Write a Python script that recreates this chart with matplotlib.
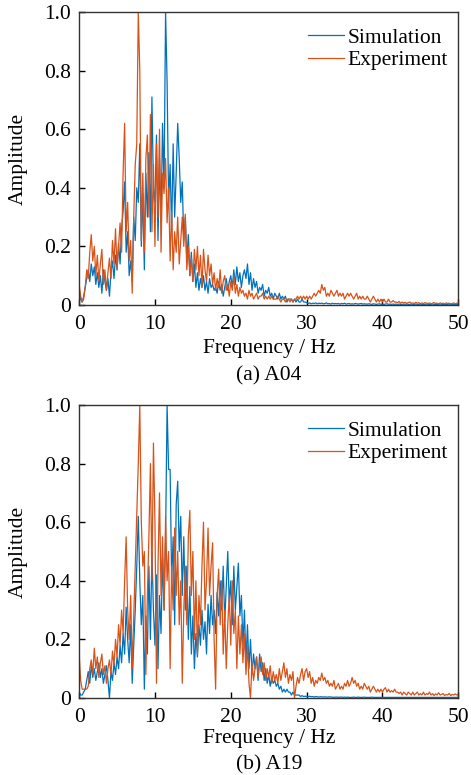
import numpy as np
import matplotlib
matplotlib.use("Agg")
import matplotlib.pyplot as plt

plt.rcParams["font.family"] = ["Liberation Serif", "DejaVu Serif"]
plt.rcParams["mathtext.fontset"] = "stix"

# amplitude spectra, 0.2 Hz step from 0 to 50 Hz
sim_a04 = [
    0.05, 0.02, 0.01, 0.03, 0.06, 0.09, 0.12, 0.08, 0.14, 0.10,
    0.13, 0.07, 0.11, 0.06, 0.10, 0.04, 0.12, 0.08, 0.05, 0.09,
    0.03, 0.11, 0.15, 0.09, 0.17, 0.12, 0.21, 0.14, 0.26, 0.32,
    0.42, 0.18, 0.25, 0.10, 0.15, 0.08, 0.30, 0.22, 0.40, 0.35,
    0.55, 0.20, 0.38, 0.12, 0.45, 0.30, 0.52, 0.25, 0.71, 0.40,
    0.35, 0.58, 0.22, 0.50, 0.28, 0.62, 0.40, 1.00, 0.76, 0.35,
    0.48, 0.25, 0.55, 0.30, 0.45, 0.62, 0.50, 0.35, 0.42, 0.22,
    0.30, 0.15, 0.24, 0.10, 0.18, 0.08, 0.14, 0.06, 0.11, 0.05,
    0.09, 0.06, 0.10, 0.05, 0.08, 0.04, 0.09, 0.06, 0.07, 0.05,
    0.06, 0.04, 0.08, 0.05, 0.07, 0.03, 0.06, 0.09, 0.05, 0.08,
    0.10, 0.06, 0.12, 0.07, 0.13, 0.08, 0.11, 0.06, 0.10, 0.12,
    0.09, 0.14, 0.07, 0.11, 0.05, 0.09, 0.06, 0.08, 0.04, 0.06,
    0.05, 0.07, 0.03, 0.05, 0.04, 0.06, 0.03, 0.04, 0.02, 0.04,
    0.03, 0.02, 0.04, 0.02, 0.03, 0.02, 0.03, 0.01, 0.02, 0.02,
    0.02, 0.01, 0.02, 0.01, 0.02, 0.01, 0.01, 0.02, 0.01, 0.01,
    0.008, 0.005, 0.007, 0.004, 0.006, 0.005, 0.007, 0.004, 0.006, 0.005,
    0.006, 0.004, 0.005, 0.007, 0.004, 0.005, 0.003, 0.006, 0.004, 0.005,
    0.004, 0.005, 0.003, 0.005, 0.004, 0.006, 0.003, 0.004, 0.005, 0.003,
    0.004, 0.003, 0.005, 0.004, 0.003, 0.004, 0.005, 0.003, 0.004, 0.003,
    0.003, 0.004, 0.003, 0.002, 0.004, 0.003, 0.002, 0.003, 0.004, 0.002,
    0.003, 0.002, 0.003, 0.004, 0.002, 0.003, 0.002, 0.003, 0.002, 0.003,
    0.002, 0.003, 0.002, 0.002, 0.003, 0.002, 0.003, 0.002, 0.002, 0.003,
    0.002, 0.002, 0.003, 0.002, 0.002, 0.003, 0.002, 0.002, 0.002, 0.003,
    0.002, 0.002, 0.002, 0.003, 0.002, 0.002, 0.002, 0.002, 0.003, 0.002,
    0.002, 0.002, 0.002, 0.002, 0.003, 0.002, 0.002, 0.002, 0.002, 0.002,
    0.002,
]
exp_a04 = [
    0.07, 0.03, 0.01, 0.02, 0.06, 0.12, 0.09, 0.18, 0.24, 0.15,
    0.20, 0.10, 0.17, 0.08, 0.14, 0.19, 0.07, 0.12, 0.05, 0.11,
    0.16, 0.09, 0.22, 0.14, 0.26, 0.12, 0.20, 0.28, 0.18, 0.45,
    0.62, 0.25, 0.35, 0.15, 0.22, 0.04, 0.30, 0.48, 0.55, 1.00,
    0.80, 0.22, 0.45, 0.18, 0.50, 0.58, 0.30, 0.65, 0.25, 0.48,
    0.20, 0.55, 0.30, 0.60, 0.18, 0.45, 0.38, 0.50, 0.28, 0.40,
    0.15, 0.32, 0.12, 0.25, 0.18, 0.30, 0.14, 0.22, 0.30, 0.20,
    0.31, 0.12, 0.20, 0.10, 0.16, 0.08, 0.19, 0.12, 0.20, 0.10,
    0.17, 0.06, 0.19, 0.12, 0.08, 0.17, 0.10, 0.14, 0.07, 0.11,
    0.05, 0.09, 0.06, 0.12, 0.04, 0.08, 0.10, 0.05, 0.07, 0.03,
    0.08, 0.05, 0.10, 0.04, 0.07, 0.03, 0.06, 0.04, 0.05, 0.03,
    0.04, 0.02, 0.05, 0.03, 0.04, 0.02, 0.03, 0.04, 0.02, 0.03,
    0.03, 0.04, 0.02, 0.03, 0.02, 0.03, 0.02, 0.03, 0.02, 0.02,
    0.02, 0.03, 0.02, 0.01, 0.02, 0.02, 0.01, 0.02, 0.02, 0.01,
    0.02, 0.01, 0.02, 0.02, 0.03, 0.02, 0.03, 0.02, 0.03, 0.02,
    0.03, 0.02, 0.03, 0.02, 0.03, 0.04, 0.03, 0.04, 0.05, 0.04,
    0.07, 0.05, 0.06, 0.03, 0.04, 0.03, 0.05, 0.04, 0.03, 0.04,
    0.05, 0.03, 0.04, 0.03, 0.04, 0.02, 0.03, 0.04, 0.03, 0.04,
    0.03, 0.02, 0.03, 0.04, 0.02, 0.03, 0.02, 0.03, 0.02, 0.02,
    0.03, 0.02, 0.01, 0.02, 0.03, 0.02, 0.01, 0.02, 0.01, 0.02,
    0.01, 0.02, 0.01, 0.01, 0.02, 0.01, 0.01, 0.015, 0.01, 0.01,
    0.008, 0.012, 0.006, 0.01, 0.007, 0.009, 0.005, 0.008, 0.01, 0.006,
    0.007, 0.005, 0.009, 0.006, 0.008, 0.004, 0.007, 0.005, 0.008, 0.006,
    0.005, 0.007, 0.004, 0.006, 0.008, 0.005, 0.006, 0.004, 0.007, 0.005,
    0.006, 0.004, 0.007, 0.005, 0.006, 0.004, 0.005, 0.007, 0.004, 0.006,
    0.005,
]
sim_a19 = [
    0.02, 0.01, 0.01, 0.02, 0.03, 0.06, 0.09, 0.05, 0.11, 0.07,
    0.10, 0.06, 0.09, 0.12, 0.07, 0.10, 0.05, 0.08, 0.11, 0.06,
    0.00, 0.09, 0.06, 0.12, 0.08, 0.14, 0.10, 0.18, 0.12, 0.22,
    0.15, 0.31, 0.20, 0.12, 0.25, 0.05, 0.18, 0.30, 0.45, 0.62,
    0.40, 0.25, 0.35, 0.03, 0.28, 0.15, 0.45, 0.20, 0.50, 0.30,
    0.18, 0.42, 0.10, 0.35, 0.22, 0.48, 0.30, 0.55, 1.00, 0.78,
    0.78, 0.40, 0.55, 0.25, 0.66, 0.74, 0.50, 0.62, 0.35, 0.55,
    0.30, 0.45, 0.20, 0.38, 0.15, 0.28, 0.10, 0.22, 0.14, 0.25,
    0.18, 0.30, 0.20, 0.26, 0.15, 0.32, 0.22, 0.35, 0.25, 0.30,
    0.22, 0.36, 0.28, 0.40, 0.30, 0.45, 0.26, 0.38, 0.50, 0.32,
    0.40, 0.25, 0.45, 0.30, 0.38, 0.46, 0.28, 0.35, 0.18, 0.30,
    0.12, 0.25, 0.10, 0.20, 0.08, 0.15, 0.10, 0.14, 0.06, 0.15,
    0.09, 0.12, 0.06, 0.10, 0.05, 0.08, 0.04, 0.07, 0.05, 0.06,
    0.04, 0.05, 0.03, 0.04, 0.02, 0.03, 0.02, 0.03, 0.02, 0.02,
    0.01, 0.02, 0.01, 0.01, 0.01, 0.01, 0.005, 0.008, 0.005, 0.006,
    0.005, 0.004, 0.006, 0.004, 0.005, 0.003, 0.005, 0.004, 0.003, 0.004,
    0.004, 0.003, 0.004, 0.003, 0.003, 0.004, 0.003, 0.003, 0.002, 0.003,
    0.003, 0.002, 0.003, 0.003, 0.002, 0.003, 0.002, 0.003, 0.002, 0.002,
    0.002, 0.003, 0.002, 0.002, 0.003, 0.002, 0.002, 0.002, 0.003, 0.002,
    0.002, 0.002, 0.002, 0.003, 0.002, 0.002, 0.002, 0.002, 0.002, 0.002,
    0.002, 0.002, 0.002, 0.002, 0.002, 0.002, 0.002, 0.002, 0.002, 0.002,
    0.002, 0.002, 0.002, 0.002, 0.002, 0.002, 0.002, 0.002, 0.002, 0.002,
    0.002, 0.002, 0.002, 0.002, 0.002, 0.002, 0.002, 0.002, 0.002, 0.002,
    0.002, 0.002, 0.002, 0.002, 0.002, 0.002, 0.002, 0.002, 0.002, 0.002,
    0.002, 0.002, 0.002, 0.002, 0.002, 0.002, 0.002, 0.002, 0.002, 0.002,
    0.002,
]
exp_a19 = [
    0.15, 0.06, 0.03, 0.03, 0.03, 0.03, 0.04, 0.10, 0.13, 0.08,
    0.17, 0.10, 0.14, 0.07, 0.12, 0.15, 0.08, 0.11, 0.05, 0.10,
    0.13, 0.08, 0.16, 0.11, 0.20, 0.14, 0.25, 0.18, 0.30, 0.22,
    0.40, 0.55, 0.30, 0.20, 0.35, 0.10, 0.28, 0.45, 0.62, 0.80,
    1.00, 0.60, 0.45, 0.50, 0.08, 0.35, 0.55, 0.80, 0.40, 0.87,
    0.60, 0.05, 0.45, 0.70, 0.35, 0.55, 0.30, 0.62, 0.40, 0.50,
    0.10, 0.45, 0.30, 0.58, 0.35, 0.50, 0.25, 0.40, 0.05, 0.30,
    0.45, 0.25, 0.55, 0.64, 0.35, 0.50, 0.20, 0.40, 0.15, 0.35,
    0.25, 0.45, 0.60, 0.30, 0.40, 0.58, 0.35, 0.45, 0.53, 0.20,
    0.03, 0.35, 0.44, 0.25, 0.40, 0.15, 0.30, 0.10, 0.25, 0.35,
    0.18, 0.40, 0.22, 0.30, 0.10, 0.28, 0.15, 0.25, 0.12, 0.22,
    0.08, 0.18, 0.05, 0.00, 0.12, 0.06, 0.10, 0.14, 0.07, 0.12,
    0.14, 0.08, 0.12, 0.06, 0.10, 0.07, 0.11, 0.05, 0.09, 0.06,
    0.08, 0.05, 0.10, 0.06, 0.09, 0.12, 0.07, 0.10, 0.05, 0.08,
    0.06, 0.09, 0.00, 0.04, 0.07, 0.05, 0.08, 0.10, 0.06, 0.09,
    0.10, 0.07, 0.09, 0.05, 0.07, 0.04, 0.06, 0.05, 0.07, 0.06,
    0.085, 0.06, 0.07, 0.05, 0.06, 0.04, 0.05, 0.04, 0.06, 0.03,
    0.04, 0.05, 0.03, 0.04, 0.03, 0.05, 0.04, 0.06, 0.04, 0.05,
    0.07, 0.05, 0.06, 0.04, 0.05, 0.03, 0.04, 0.03, 0.05, 0.04,
    0.03, 0.04, 0.02, 0.03, 0.04, 0.03, 0.02, 0.03, 0.02, 0.03,
    0.02, 0.03, 0.035, 0.02, 0.03, 0.02, 0.025, 0.02, 0.03, 0.02,
    0.02, 0.015, 0.02, 0.01, 0.02, 0.015, 0.01, 0.02, 0.015, 0.01,
    0.02, 0.01, 0.015, 0.02, 0.01, 0.015, 0.01, 0.02, 0.01, 0.015,
    0.012, 0.02, 0.01, 0.015, 0.008, 0.014, 0.01, 0.018, 0.01, 0.012,
    0.015, 0.008, 0.012, 0.01, 0.016, 0.008, 0.012, 0.01, 0.014, 0.01,
    0.012,
]
yticks = [0, 0.2, 0.4, 0.6, 0.8, 1.0]
ytick_labels = ["0", "0.2", "0.4", "0.6", "0.8", "1.0"]
xticks = [0, 10, 20, 30, 40, 50]

blue = "#0072BD"
orange = "#D95319"
fs = 15.5

fig = plt.figure(figsize=(4.71, 7.75), dpi=100)

# (sim, exp, caption, axes rect, xlabel y, caption y) - y in axes coords
panels = [
    (sim_a04, exp_a04, "(a) A04", [0.168, 0.6065, 0.805, 0.378], -0.147, -0.242),
    (sim_a19, exp_a19, "(b) A19", [0.168, 0.0994, 0.805, 0.378], -0.137, -0.229),
]

for sim, exp, caption, pos, xl_y, cap_y in panels:
    ax = fig.add_axes(pos)
    f_sim = np.linspace(0, 50, len(sim))
    f_exp = np.linspace(0, 50, len(exp))
    ax.plot(f_sim, sim, color=blue, lw=0.9, label="Simulation")
    ax.plot(f_exp, exp, color=orange, lw=0.9, label="Experiment")
    ax.set_xlim(0, 50)
    ax.set_ylim(0, 1.0)
    ax.set_xticks(xticks)
    ax.set_yticks(yticks)
    ax.set_yticklabels(ytick_labels)
    ax.tick_params(direction="in", length=4, width=1, labelsize=fs,
                   top=False, right=False)
    ax.tick_params(axis="x", pad=7)
    ax.tick_params(axis="y", pad=6)
    for s in ax.spines.values():
        s.set_linewidth(1.0)
        s.set_color("#333333")
    ax.set_xlabel("Frequency / Hz", fontsize=fs, va="center")
    ax.xaxis.set_label_coords(0.5, xl_y)
    ax.set_ylabel("Amplitude", fontsize=fs, va="center")
    ax.yaxis.set_label_coords(-0.161, 0.5)
    ax.legend(loc="upper right", bbox_to_anchor=(0.995, 0.975), frameon=False,
              fontsize=fs, handlelength=1.7, handletextpad=0.15,
              borderaxespad=0, labelspacing=0.1)
    ax.text(0.5, cap_y, caption, transform=ax.transAxes, ha="center",
            va="center", fontsize=fs)

fig.savefig("out.png", dpi=100)
